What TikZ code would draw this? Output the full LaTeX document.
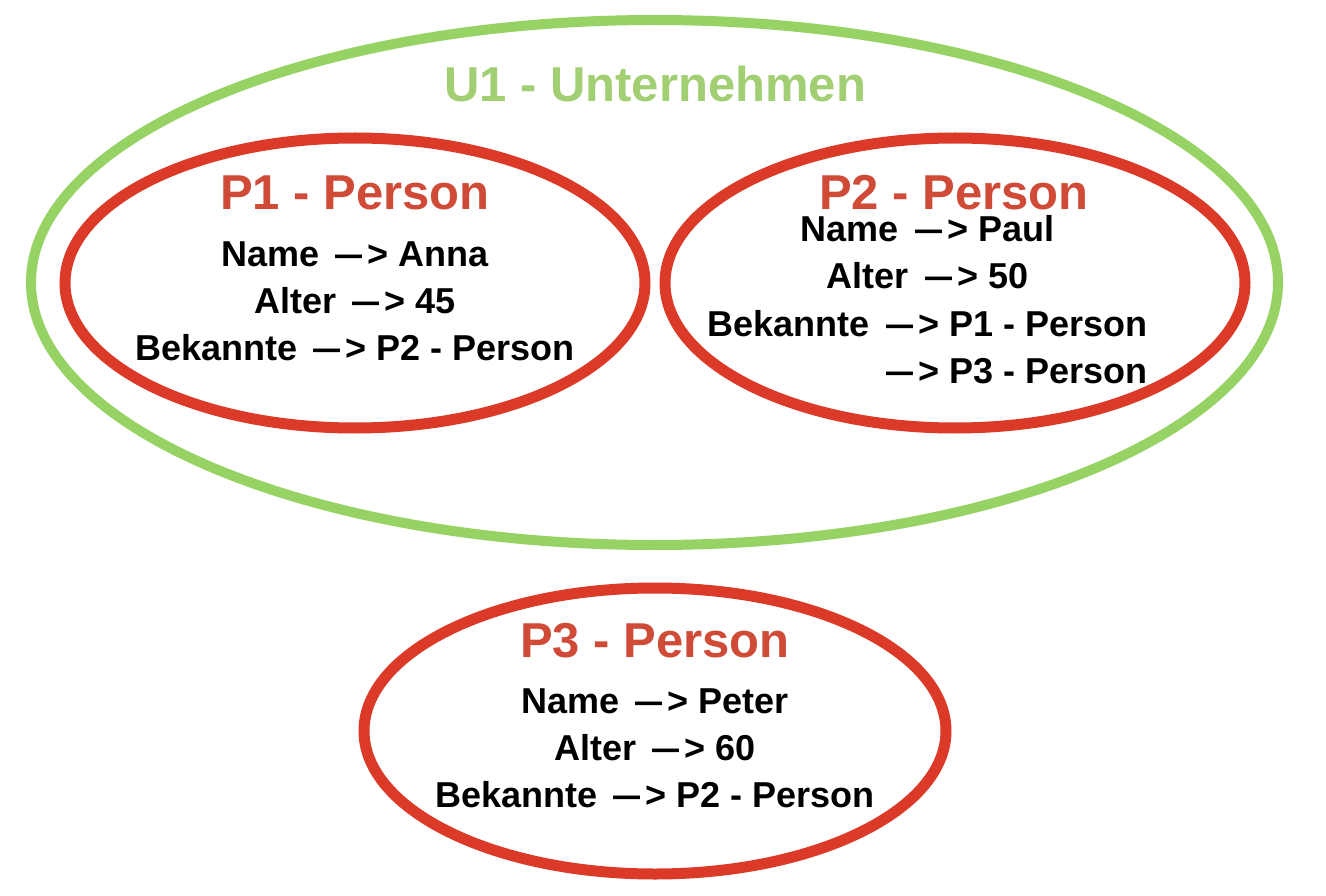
\documentclass[tikz,border=0pt]{standalone}
\usepackage{fontspec}
\setmainfont{Liberation Sans}
\usetikzlibrary{shapes.geometric}
\definecolor{lineRed}{RGB}{220,58,40}
\definecolor{textRed}{RGB}{208,75,55}
\definecolor{lineGreen}{RGB}{150,210,100}
\definecolor{textGreen}{RGB}{162,207,115}
\newcommand\arrw{\hspace{0.45em}\scalebox{0.75}[1]{—}\hspace{0.14em}>}
\tikzset{
  oval/.style={ellipse, draw, inner sep=0pt, outer sep=0pt},
  personoval/.style={oval, draw=lineRed, line width=11pt},
  firmoval/.style={oval, draw=lineGreen, line width=10pt},
  title/.style={anchor=base, inner sep=0pt, font=\fontsize{49}{59}\selectfont\bfseries},
  body/.style={anchor=base, inner sep=0pt, font=\fontsize{36}{47}\selectfont\bfseries, text=black},
}
\begin{document}
\begin{tikzpicture}[x=1pt,y=-1pt]
\useasboundingbox (0,0) rectangle (1326,896);
\fill[white] (0,0) rectangle (1326,896);
% ovals
\node[firmoval, minimum width=1247pt, minimum height=525pt] (u1) at (654.5,282.5) {};
\node[personoval, minimum width=580pt, minimum height=290pt] (p1) at (355,283) {};
\node[personoval, minimum width=580pt, minimum height=290pt] (p2) at (955,283) {};
\node[personoval, minimum width=582pt, minimum height=286pt] (p3) at (655,731) {};
% company title
\node[title, text=textGreen] (u1t) at (655,102) {U1 - Unternehmen};
% P1
\node[title, text=textRed] (p1t) at (355,210) {P1 - Person};
\node[body] (p1a) at (355,267) {Name\arrw{} Anna};
\node[body] (p1b) at (355,313.5) {Alter\arrw{} 45};
\node[body] (p1c) at (355,360) {Bekannte\arrw{} P2 - Person};
% P2
\node[title, text=textRed] (p2t) at (954,210) {P2 - Person};
\node[body] (p2a) at (927.5,242) {Name\arrw{} Paul};
\node[body] (p2b) at (927.5,289) {Alter\arrw{} 50};
\node[body] (p2c) at (927.5,336) {Bekannte\arrw{} P1 - Person};
\node[body] (p2d) at (927.5,383) {\phantom{Bekannte}\arrw{} P3 - Person};
% P3
\node[title, text=textRed] (p3t) at (655,657) {P3 - Person};
\node[body] (p3a) at (655,713.5) {Name\arrw{} Peter};
\node[body] (p3b) at (655,760) {Alter\arrw{} 60};
\node[body] (p3c) at (655,807.5) {Bekannte\arrw{} P2 - Person};
\end{tikzpicture}
\end{document}
